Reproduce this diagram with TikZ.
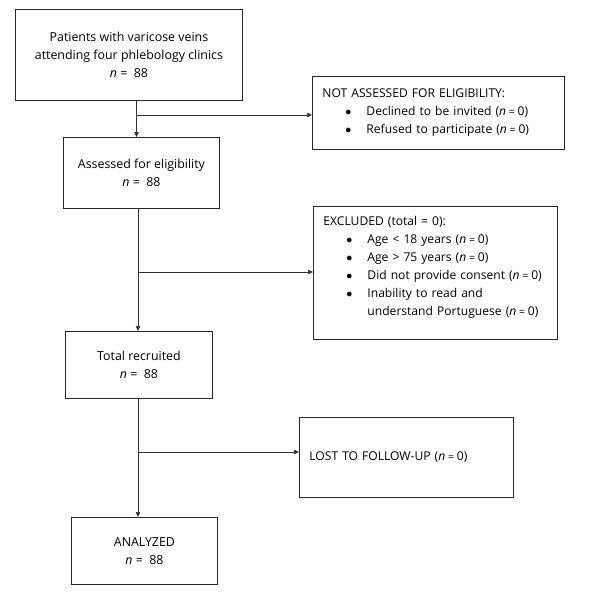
\documentclass[tikz,border=0pt]{standalone}
\usepackage{fontspec}
\setmainfont{Open Sans}
\usetikzlibrary{arrows.meta, positioning}

\newcommand{\bul}{\hspace*{23pt}\makebox[21pt][l]{\raisebox{0.5pt}{$\bullet$}}}
\newcommand{\cont}{\hspace*{44pt}}
\newcommand{\nn}{\textit{n}}
\newcommand{\nzero}{(\nn\hspace{2.8pt}{\fontsize{10.5}{18}\selectfont=}\hspace{2.8pt}0)}

\begin{document}
\begin{tikzpicture}[x=1pt, y=-1pt,
  font=\fontsize{12.4}{18}\selectfont,
  flowbox/.style={rectangle, draw=black!85, line width=0.9pt, align=center, anchor=north west, inner sep=0pt},
  listbox/.style={rectangle, draw=black!85, line width=0.9pt, align=left, anchor=north west, inner xsep=10pt, inner ysep=0pt, font=\fontsize{12.1}{18}\selectfont},
  arrow/.style={draw=black!80, line width=0.6pt, -{Triangle[length=5pt, width=4.5pt]}}
]
\useasboundingbox (0,0) rectangle (591,594);

% main column
\node (patients) [flowbox, minimum width=227pt, minimum height=91pt] at (15,9)
  {Patients with varicose veins\\attending four phlebology clinics\\\nn\ =\ \ 88};
\node (assessed) [flowbox, minimum width=156pt, minimum height=71pt] at (63,137)
  {Assessed for eligibility\\\nn\ =\ \ 88};
\node (recruited) [flowbox, minimum width=147pt, minimum height=67pt] at (65,331)
  {Total recruited\\\nn\ =\ \ 88};
\node (analyzed) [flowbox, minimum width=146pt, minimum height=67pt] at (71,517)
  {ANALYZED\\\nn\ =\ \ 88};

% side boxes
\node (notassessed) [listbox, text width=232pt, minimum height=73pt] at (312,76)
  {NOT ASSESSED FOR ELIGIBILITY:\\
   \bul Declined to be invited \nzero\\
   \bul Refused to participate \nzero};
\node (excluded) [listbox, text width=224pt, minimum height=133pt] at (313,206)
  {EXCLUDED (total = 0):\\
   \bul Age < 18 years \nzero\\
   \bul Age > 75 years \nzero\\
   \bul Did not provide consent \nzero\\
   \bul Inability to read and\\
   \cont understand Portuguese \nzero\\[-4pt]\mbox{}\\[-4pt]};
\node (lost) [listbox, text width=194pt, minimum height=80pt] at (299,417)
  {LOST TO FOLLOW-UP \nzero};

% branch points
\coordinate (b1) at (136.5,115);
\coordinate (b2) at (138,272);
\coordinate (b3) at (138,452);

\draw [arrow] (b1 |- patients.south) -- (b1 |- assessed.north);
\draw [arrow] (b1) -- (b1 -| notassessed.west);
\draw [arrow] (b2 |- assessed.south) -- (b2 |- recruited.north);
\draw [arrow] (b2) -- (b2 -| excluded.west);
\draw [arrow] (b3 |- recruited.south) -- (b3 |- analyzed.north);
\draw [arrow] (b3) -- (b3 -| lost.west);

\end{tikzpicture}
\end{document}
